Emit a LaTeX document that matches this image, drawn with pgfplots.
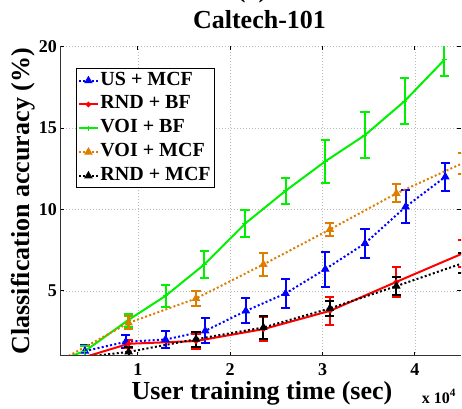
\documentclass[border=0pt]{standalone}
\usepackage{fontspec}
\setmainfont{Liberation Serif}
\usepackage{pgfplots}
\usepackage{pgfplotstable}
\pgfplotsset{compat=1.18}
\definecolor{myorange}{RGB}{222,125,0}
\definecolor{mygreen}{RGB}{0,240,0}

\pgfplotstableread{
x y e
0.427 1.30 0.35
0.87 1.87 0.40
1.30 2.01 0.50
1.73 2.54 0.77
2.17 3.77 0.77
2.60 4.84 0.90
3.03 6.33 1.07
3.46 7.91 0.87
3.90 10.16 1.02
4.33 12.00 0.85
}\usmcf

\pgfplotstableread{
x y e
0.17 0.50 0
0.90 1.75 0.25
1.63 1.92 0.46
2.36 2.65 0.75
3.08 3.77 0.87
3.80 5.55 0.94
4.52 7.30 0.84
}\rndbf

\pgfplotstableread{
x y e
0.00 0.45 0
0.427 1.30 0.30
0.895 3.20 0.40
1.30 4.69 0.67
1.72 6.62 0.82
2.16 9.12 0.82
2.60 11.14 0.78
3.03 12.95 1.30
3.46 14.56 1.42
3.89 16.65 1.40
4.32 19.18 1.00
}\voibf

\pgfplotstableread{
x y e
0.17 0.75 0
0.90 3.03 0.40
1.63 4.53 0.48
2.36 6.62 0.70
3.08 8.77 0.38
3.80 10.98 0.55
4.52 12.84 0.65
}\voimcf

\pgfplotstableread{
x y e
0.17 0.78 0
0.90 1.25 0.30
1.63 2.03 0.47
2.36 2.75 0.70
3.08 3.92 0.48
3.80 5.29 0.55
4.52 6.70 0.62
}\rndmcf

\pgfplotsset{
  errs/.style={error bars/.cd, y dir=both, y explicit, error mark=-,
    error bar style={solid, line width=2bp},
    error mark options={rotate=90, solid, line width=2bp, mark size=4.6bp}},
  dotline/.style={line width=2bp, dash pattern=on 2bp off 2.3bp},
}

\begin{document}
\begin{tikzpicture}
\begin{axis}[
  at={(60bp,53bp)}, anchor=south west,
  width=401bp, height=309.5bp, scale only axis,
  xmin=0.157, xmax=4.5, ymin=1, ymax=20,
  xtick={1,2,3,4}, ytick={5,10,15,20},
  grid=major,
  grid style={gray!55, line width=0.6bp, dash pattern=on 1bp off 2bp},
  axis line style={draw=none},
  tick align=inside,
  major tick length=4bp,
  tick style={black, line width=0.8bp},
  /pgf/number format/assume math mode=true,
  ticklabel style={font=\fontsize{18bp}{20bp}\selectfont\bfseries},
  xticklabel style={anchor=base, yshift=-20bp},
  yticklabel style={anchor=east, inner sep=0pt, xshift=-3bp},
  clip=true,
  legend cell align=left,
  legend style={at={(0.039,0.9296)}, anchor=north west, draw=black, line width=1bp, fill=white,
    font=\fontsize{20bp}{22bp}\selectfont\bfseries, inner xsep=1.8bp, inner ysep=0bp, row sep=0pt,
    nodes={inner xsep=1.5bp, inner ysep=2.9bp, text height=13.5bp, text depth=4.5bp}},
  legend image code/.code={\draw[mark repeat=2,mark phase=2] plot coordinates {(0bp,0bp)(9.5bp,0bp)(19bp,0bp)};},
]
\addplot[blue, dotline, mark=triangle*, mark size=4bp, mark options={solid, line width=1bp}, errs]
  table[x=x, y=y, y error=e] {\usmcf};
\addlegendentry{US + MCF}
\addplot[red, line width=2bp, mark=*, mark size=1.6bp, mark options={solid}, errs]
  table[x=x, y=y, y error=e] {\rndbf};
\addlegendentry{RND + BF}
\addplot[mygreen, line width=2bp, mark=+, mark size=2.5bp, mark options={solid, line width=1bp}, errs]
  table[x=x, y=y, y error=e] {\voibf};
\addlegendentry{VOI + BF}
\addplot[myorange, dotline, mark=triangle*, mark size=4bp, mark options={solid, line width=1bp}, errs]
  table[x=x, y=y, y error=e] {\voimcf};
\addlegendentry{VOI + MCF}
\addplot[black, dotline, mark=triangle*, mark size=4bp, mark options={solid, line width=1bp}, errs]
  table[x=x, y=y, y error=e] {\rndmcf};
\addlegendentry{RND + MCF}
\draw[line width=1bp, black!80] (rel axis cs:0,1) -- (rel axis cs:0,0) -- (rel axis cs:1,0);
\end{axis}
\node[font=\fontsize{26bp}{30bp}\selectfont\bfseries, anchor=base, inner sep=0pt] at (259.5bp,380bp) {Caltech-101};
\node[font=\fontsize{26bp}{30bp}\selectfont\bfseries, anchor=base, inner sep=0pt] at (252bp,411.7bp) {(a)};
\node[font=\fontsize{26bp}{30bp}\selectfont\bfseries, rotate=90, anchor=base, inner sep=0pt] at (29bp,207.75bp) {Classification accuracy (\%)};
\node[font=\fontsize{26bp}{30bp}\selectfont\bfseries, anchor=base, inner sep=0pt] at (262bp,10bp) {User training time (sec)};
\node[font=\fontsize{16bp}{18bp}\selectfont\bfseries, anchor=base west, inner sep=0pt] at (421.7bp,6bp) {x 10\textsuperscript{4}};
\pgfresetboundingbox
\useasboundingbox (0,0) rectangle (462bp,409bp);
\end{tikzpicture}
\end{document}
